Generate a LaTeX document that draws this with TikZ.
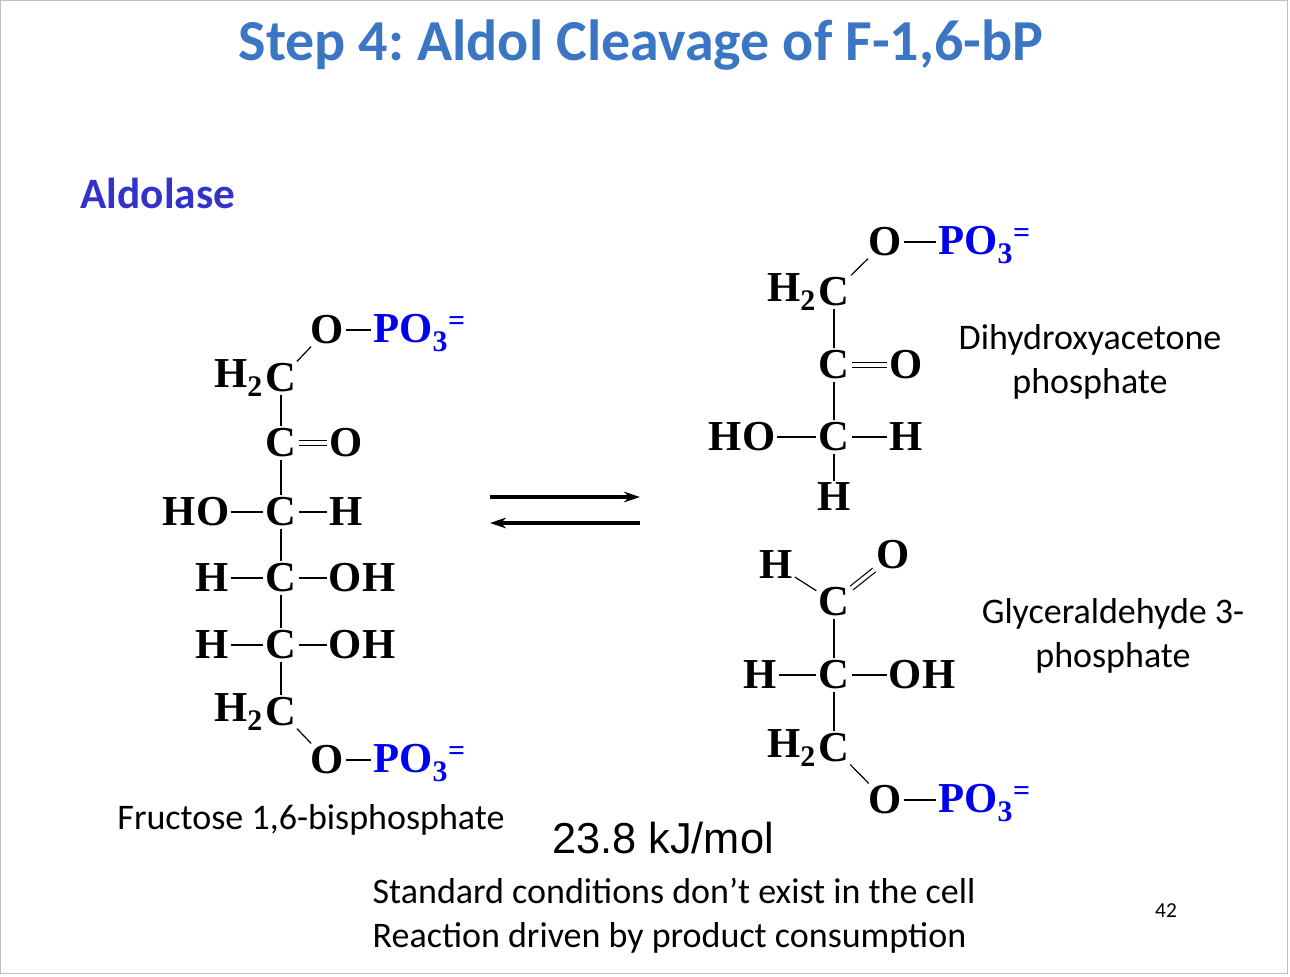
\documentclass[tikz,border=0pt]{standalone}
\usepackage{fontspec}
\setmainfont{Liberation Serif}
\newfontfamily\calib{Carlito}
\newfontfamily\arial{Liberation Sans}
\usetikzlibrary{arrows.meta}
\frenchspacing
\definecolor{titleblue}{HTML}{3A76C4}
\definecolor{aldo}{HTML}{3333CC}
\definecolor{pblue}{HTML}{0000F0}
\tikzset{
  chem/.style={font=\fontsize{32}{32}\selectfont\bfseries, inner sep=1.5pt},
  phos/.style={chem, text=pblue},
  bond/.style={line width=0.9pt},
  dbond/.style={line width=0.9pt, double, double distance=2.6pt},
  lab/.style={font=\calib\fontsize{27}{33}\selectfont, align=center},
  rx/.style={line width=2.4pt, -{Stealth[length=12pt,width=8pt]}}
}
\begin{document}
\begin{tikzpicture}[x=0.75pt,y=-0.75pt]
\useasboundingbox (0,0) rectangle (1290,976);
\draw[gray!50] (0,0) rectangle (1287,973);
\node[font=\calib\bfseries\fontsize{43.5}{46}\selectfont, text=titleblue] (title) at (641,45) {Step 4: Aldol Cleavage of F-1,6-bP};
\node[font=\calib\bfseries\fontsize{32.5}{34}\selectfont, text=aldo] (aldolase) at (158,193) {Aldolase};

% left: fructose 1,6-bisphosphate
\node[chem] (lO1) at (327,330) {O};
\node[phos,anchor=west] (lP1) at (371,333) {PO\textsubscript{3}\textsuperscript{=}};
\node[chem] (lC1) at (281,378) {C};
\node[chem,anchor=east,inner sep=0pt] (lH1) at (lC1.west) {H\textsubscript{2}};
\node[chem] (lC2) at (281,443) {C};
\node[chem] (lO2) at (346,443) {O};
\node[chem] (lC3) at (281,512) {C};
\node[chem] (lHO3) at (196,512) {HO};
\node[chem] (lH3) at (346,512) {H};
\node[chem] (lC4) at (281,578) {C};
\node[chem] (lH4) at (212,578) {H};
\node[chem] (lOH4) at (362,578) {OH};
\node[chem] (lC5) at (281,645) {C};
\node[chem] (lH5) at (212,645) {H};
\node[chem] (lOH5) at (362,645) {OH};
\node[chem] (lC6) at (281,712) {C};
\node[chem,anchor=east,inner sep=0pt] (lH6) at (lC6.west) {H\textsubscript{2}};
\node[chem] (lO6) at (327,760) {O};
\node[phos,anchor=west] (lP6) at (371,763) {PO\textsubscript{3}\textsuperscript{=}};
\draw[bond] (lO1) -- (lP1.west|-lO1);
\draw[bond] (lC1) -- (lO1);
\draw[bond] (lC1) -- (lC2);
\draw[dbond] (lC2) -- (lO2);
\draw[bond] (lC2) -- (lC3) -- (lC4) -- (lC5) -- (lC6);
\draw[bond] (lHO3) -- (lC3) -- (lH3);
\draw[bond] (lH4) -- (lC4) -- (lOH4);
\draw[bond] (lH5) -- (lC5) -- (lOH5);
\draw[bond] (lC6) -- (lO6);
\draw[bond] (lO6) -- (lP6.west|-lO6);
\node[lab] (fbp) at (311,820) {Fructose 1,6-bisphosphate};

% arrows
\coordinate (a1) at (490,497);
\coordinate (a2) at (640,497);
\coordinate (b1) at (640,523);
\coordinate (b2) at (490,523);
\draw[rx] (a1) -- (a2);
\draw[rx] (b1) -- (b2);

% right top: DHAP
\node[chem] (dO1) at (885,242) {O};
\node[phos,anchor=west] (dP1) at (936,245) {PO\textsubscript{3}\textsuperscript{=}};
\node[chem] (dC1) at (834,292) {C};
\node[chem,anchor=east,inner sep=0pt] (dH1) at (dC1.west) {H\textsubscript{2}};
\node[chem] (dC2) at (834,365) {C};
\node[chem] (dO2) at (906,365) {O};
\node[chem] (dC3) at (834,437) {C};
\node[chem] (dHO3) at (742,437) {HO};
\node[chem] (dH3) at (906,437) {H};
\node[chem] (dH4) at (834,497) {H};
\draw[bond] (dC1) -- (dO1);
\draw[bond] (dO1) -- (dP1.west|-dO1);
\draw[bond] (dC1) -- (dC2);
\draw[dbond] (dC2) -- (dO2);
\draw[bond] (dC2) -- (dC3) -- (dH4);
\draw[bond] (dHO3) -- (dC3) -- (dH3);
\node[lab] (dhap) at (1090,362) {Dihydroxyacetone\\phosphate};

% right bottom: G3P
\node[chem] (gH0) at (776,565) {H};
\node[chem] (gO0) at (893,555) {O};
\node[chem] (gC1) at (834,602) {C};
\node[chem] (gC2) at (834,675) {C};
\node[chem] (gH2) at (760,675) {H};
\node[chem] (gOH2) at (922,675) {OH};
\node[chem] (gC3) at (834,748) {C};
\node[chem,anchor=east,inner sep=0pt] (gH3) at (gC3.west) {H\textsubscript{2}};
\node[chem] (gO3) at (885,800) {O};
\node[phos,anchor=west] (gP3) at (936,803) {PO\textsubscript{3}\textsuperscript{=}};
\draw[bond] (gH0) -- (gC1);
\draw[dbond] (gC1) -- (gO0);
\draw[bond] (gC1) -- (gC2) -- (gC3);
\draw[bond] (gH2) -- (gC2) -- (gOH2);
\draw[bond] (gC3) -- (gO3);
\draw[bond] (gO3) -- (gP3.west|-gO3);
\node[lab] (g3p) at (1113,636) {Glyceraldehyde 3-\\phosphate};

\node[font=\arial\fontsize{32.5}{35}\selectfont] (dg) at (663,838) {23.8 kJ/mol};
\node[lab,align=left,anchor=west] (note) at (368,916) {Standard conditions don’t exist in the cell\\Reaction driven by product consumption};
\node[font=\calib\fontsize{16}{18}\selectfont] (pg) at (1166,911) {42};
\end{tikzpicture}
\end{document}
